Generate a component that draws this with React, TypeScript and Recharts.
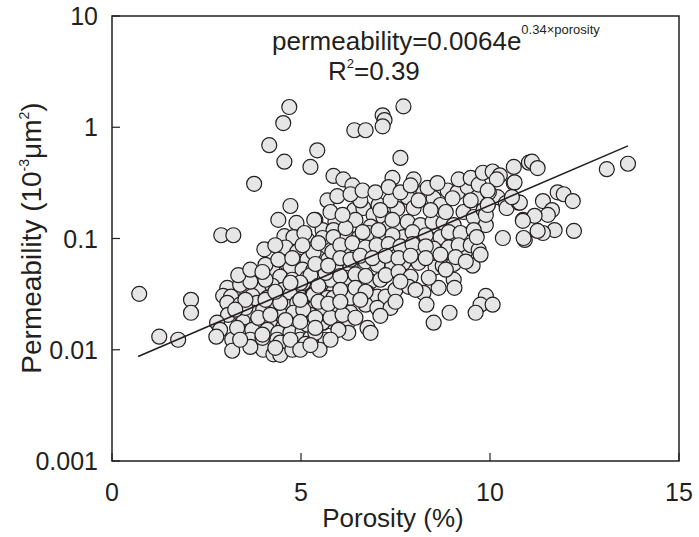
import { ScatterChart, Scatter, XAxis, YAxis, ReferenceArea } from "recharts";

const FONT = '"Liberation Sans", Arial, Helvetica, sans-serif';
const INK = "#231f20";

const porosityTicks = [0, 5, 10, 15];
const permeabilityTicks = [0.001, 0.01, 0.1, 1, 10];

// [porosity %, permeability 10^-3 μm²]
const highOutliers: [number, number][] = [
  [4.69, 1.52], [4.53, 1.09], [7.71, 1.54], [7.16, 1.28], [7.21, 1.16], [7.16, 1.02],
  [6.41, 0.94], [6.71, 0.94], [4.16, 0.69], [5.43, 0.62], [4.56, 0.49], [5.25, 0.44],
  [5.86, 0.365], [6.12, 0.34], [6.36, 0.3], [3.76, 0.31], [5.7, 0.22], [5.96, 0.24],
  [4.72, 0.196], [7.63, 0.53], [7.42, 0.35], [7.98, 0.34], [4.4, 0.147], [4.88, 0.138],
  [5.38, 0.147], [5.91, 0.141], [2.89, 0.107], [3.21, 0.107], [4.03, 0.08], [0.72, 0.0318],
  [1.25, 0.0131], [1.75, 0.0123], [2.09, 0.0281], [2.09, 0.0215],
];

const leftCluster: [number, number][] = [
  [4.56, 0.105], [4.8, 0.103], [5.17, 0.097], [5.09, 0.112], [5.57, 0.119], [5.86, 0.119],
  [4.59, 0.083], [4.9, 0.076], [5.25, 0.079], [5.59, 0.083], [5.86, 0.075],
  [4.61, 0.0605], [4.93, 0.062], [5.17, 0.0645], [5.43, 0.068], [5.72, 0.0645],
  [4.24, 0.0524], [4.72, 0.056], [5.04, 0.0524], [5.33, 0.0524], [5.59, 0.055], [5.91, 0.05],
  [3.84, 0.0444], [4.45, 0.0453], [4.77, 0.0426], [5.17, 0.0444], [5.51, 0.0453], [5.83, 0.0426],
  [3.05, 0.036], [3.58, 0.0325], [3.95, 0.0353], [4.24, 0.0376], [4.53, 0.0346], [4.9, 0.0368],
  [5.25, 0.0346], [5.59, 0.036], [5.86, 0.0332],
  [2.94, 0.0305], [3.15, 0.03], [3.71, 0.0305], [4.11, 0.0293], [4.72, 0.0312], [5.04, 0.0293],
  [5.3, 0.0312], [5.7, 0.0293], [5.88, 0.0287],
  [3.05, 0.0264], [3.84, 0.0264], [4.27, 0.0254], [4.64, 0.0243], [4.9, 0.0264], [5.38, 0.0243],
  [5.78, 0.0243],
  [3.07, 0.0206], [3.42, 0.0206], [3.74, 0.0215], [4.0, 0.0229], [4.51, 0.0202], [4.8, 0.0215],
  [5.25, 0.0206], [5.57, 0.022], [5.86, 0.0215],
  [2.78, 0.0175], [3.47, 0.0178], [3.84, 0.0178], [4.19, 0.0168], [4.53, 0.016], [4.9, 0.0168],
  [5.17, 0.016], [5.59, 0.0175], [5.83, 0.0178],
  [2.86, 0.0151], [3.58, 0.0145], [3.71, 0.0151], [4.11, 0.0151], [4.4, 0.0142], [4.72, 0.0142],
  [5.04, 0.0145], [5.3, 0.0157],
  [2.76, 0.0131], [3.18, 0.0123], [3.66, 0.0123], [4.37, 0.0123], [4.45, 0.0116], [4.98, 0.0123],
  [5.25, 0.0128], [5.65, 0.0123],
  [3.18, 0.0098], [4.0, 0.01], [4.27, 0.0091], [4.45, 0.009], [4.77, 0.01], [5.49, 0.01],
  [3.66, 0.0106],
];

const centralCluster: [number, number][] = [
  [6.41, 0.18], [6.65, 0.188], [6.92, 0.163], [7.18, 0.156], [7.55, 0.185], [7.82, 0.235],
  [7.98, 0.188], [8.24, 0.26], [8.51, 0.23], [8.88, 0.27], [9.14, 0.26], [9.41, 0.29],
  [9.67, 0.235], [9.94, 0.2], [10.2, 0.235],
  [5.35, 0.147], [6.44, 0.147], [6.84, 0.128], [7.29, 0.124], [7.55, 0.119], [7.82, 0.141],
  [8.16, 0.132], [8.48, 0.141], [8.77, 0.138], [9.04, 0.132], [9.3, 0.173], [9.57, 0.156],
  [5.57, 0.101], [5.86, 0.103], [6.23, 0.103], [6.52, 0.101], [6.79, 0.112], [7.1, 0.097],
  [7.45, 0.097], [7.71, 0.103], [8.08, 0.097], [8.43, 0.097], [8.69, 0.103], [9.01, 0.097],
  [5.33, 0.075], [5.83, 0.076], [6.18, 0.079], [6.49, 0.0715], [6.84, 0.079], [7.16, 0.076],
  [7.45, 0.076], [7.82, 0.079], [8.16, 0.083], [8.51, 0.081], [9.36, 0.078],
  [5.51, 0.0524], [5.91, 0.055], [6.31, 0.056], [6.71, 0.062], [7.02, 0.058], [7.42, 0.057],
  [7.71, 0.0605], [8.11, 0.0605], [8.56, 0.055], [8.75, 0.057], [9.04, 0.059], [9.54, 0.057],
  [5.06, 0.04], [5.43, 0.0426], [5.78, 0.0426], [6.18, 0.0444], [6.52, 0.0384], [6.84, 0.041],
  [7.1, 0.0426], [8.24, 0.0325], [8.64, 0.036], [9.04, 0.0426], [9.06, 0.036],
  [5.33, 0.0312], [5.86, 0.0293], [6.31, 0.0293], [6.76, 0.0325], [7.02, 0.03], [7.24, 0.03],
  [8.32, 0.0254], [9.89, 0.0305], [9.75, 0.0254], [10.07, 0.0254], [9.62, 0.0215],
  [8.93, 0.0215], [8.51, 0.0175],
  [5.06, 0.0229], [5.59, 0.022], [5.96, 0.0238], [6.31, 0.0215], [6.71, 0.0254], [7.02, 0.0238],
  [7.37, 0.0238],
  [5.17, 0.0168], [5.57, 0.0175], [5.96, 0.0178], [6.25, 0.0178], [6.76, 0.0157], [6.84, 0.0142],
  [6.25, 0.0142],
];

const coreFill: [number, number][] = [
  [6.57, 0.22], [7.05, 0.2], [7.37, 0.22], [8.11, 0.22], [8.69, 0.2], [9.01, 0.23], [9.49, 0.22],
  [9.83, 0.18],
  [6.18, 0.124], [6.63, 0.114], [7.05, 0.119], [7.42, 0.107], [7.95, 0.114], [8.3, 0.107],
  [8.91, 0.114], [9.22, 0.112], [9.89, 0.132],
  [6.04, 0.087], [6.36, 0.091], [6.71, 0.083], [7.0, 0.087], [7.32, 0.089], [7.63, 0.085],
  [7.95, 0.089], [8.3, 0.085], [8.91, 0.083], [9.17, 0.087],
  [6.04, 0.0665], [6.31, 0.0645], [6.57, 0.07], [6.89, 0.0665], [7.24, 0.07], [7.58, 0.0665],
  [7.9, 0.07], [8.3, 0.0665], [8.69, 0.0715], [9.09, 0.068],
  [5.25, 0.0468], [5.65, 0.049], [6.04, 0.046], [6.44, 0.0475], [6.71, 0.046], [7.24, 0.0468],
  [7.58, 0.05], [7.9, 0.0453],
  [6.04, 0.0346], [6.44, 0.036], [6.71, 0.0332], [7.5, 0.0346], [7.85, 0.0368],
  [5.38, 0.0194], [5.78, 0.0194], [6.1, 0.0206], [6.44, 0.0194], [7.1, 0.0202],
  [3.39, 0.0254], [4.06, 0.0281], [4.45, 0.0264], [4.98, 0.0281], [5.46, 0.027], [5.72, 0.0259],
  [3.39, 0.0384], [3.66, 0.041], [4.06, 0.0426], [4.98, 0.04], [5.46, 0.0376],
  [4.06, 0.058], [4.4, 0.0645], [4.77, 0.0665], [5.38, 0.059], [5.72, 0.057],
  [4.32, 0.087], [5.04, 0.087], [5.46, 0.091],
  [3.31, 0.0157], [3.98, 0.0128], [4.72, 0.0123], [5.12, 0.0113], [5.38, 0.0142],
];

const upperBand: [number, number][] = [
  [6.31, 0.25], [6.63, 0.27], [6.97, 0.26], [7.32, 0.29], [7.63, 0.26], [7.9, 0.3],
  [8.35, 0.285], [8.61, 0.315], [9.17, 0.34], [9.49, 0.35], [9.7, 0.305],
  [5.78, 0.173], [6.1, 0.163], [7.1, 0.18], [7.42, 0.147], [8.43, 0.18], [8.83, 0.173],
  [9.89, 0.163], [9.49, 0.087], [9.7, 0.079],
];

const lowerFill: [number, number][] = [
  [3.53, 0.0238], [3.87, 0.0194], [4.19, 0.0206], [4.59, 0.0185], [4.98, 0.0178], [5.38, 0.0157],
  [5.99, 0.0151], [3.98, 0.0137], [4.32, 0.0104], [4.98, 0.01], [5.25, 0.011], [5.78, 0.0123],
  [3.39, 0.0123],
  [3.34, 0.0468], [3.66, 0.0524], [3.98, 0.05], [4.32, 0.0332], [4.72, 0.04], [3.53, 0.0281],
  [3.26, 0.0229],
  [6.04, 0.027], [6.57, 0.0281], [7.63, 0.041], [8.03, 0.0346], [8.38, 0.0444], [8.83, 0.0524],
  [9.36, 0.062], [9.75, 0.0715], [7.5, 0.027],
];

const rightCluster: [number, number][] = [
  [9.81, 0.39], [10.07, 0.4], [10.26, 0.37], [10.18, 0.34], [10.63, 0.44], [10.63, 0.315],
  [11.03, 0.48], [9.97, 0.26], [10.42, 0.208], [10.44, 0.188], [10.76, 0.21], [10.87, 0.147],
  [10.92, 0.097], [10.34, 0.101], [9.57, 0.119], [9.65, 0.103],
  [13.65, 0.47], [13.09, 0.42], [11.11, 0.49], [11.26, 0.43], [10.65, 0.32],
  [11.79, 0.26], [11.95, 0.25], [12.19, 0.217], [11.4, 0.217], [11.64, 0.18], [11.53, 0.163],
  [11.18, 0.16], [10.87, 0.144], [10.79, 0.21], [10.58, 0.235], [9.94, 0.27], [9.94, 0.2],
  [11.71, 0.119], [12.22, 0.117], [11.4, 0.112], [11.26, 0.117], [10.89, 0.101],
];

// end points of the fitted line
const trendEnds: [number, number][] = [
  [0.69, 0.0087],
  [13.65, 0.68],
];

const toPoints = (rows: [number, number][]) =>
  rows.map(([porosity, permeability]) => ({ porosity, permeability }));

const samples = toPoints([
  ...highOutliers,
  ...leftCluster,
  ...centralCluster,
  ...coreFill,
  ...upperBand,
  ...lowerFill,
  ...rightCluster,
]);
const trend = toPoints(trendEnds);

const Dot = ({ cx, cy }: any) => (
  <circle cx={cx} cy={cy} r={7.5} fill="#e6e6e6" stroke={INK} strokeWidth={1.2} />
);

const NoDot = () => <g />;

const XTick = ({ x, y, payload }: any) => (
  <g>
    <line x1={x} y1={y} x2={x} y2={y - 8} stroke={INK} strokeWidth={1.2} />
    <text x={x} y={y + 40} textAnchor="middle" fontSize={25} fontFamily={FONT} fill={INK}>
      {payload.value}
    </text>
  </g>
);

const YTick = ({ x, y, payload }: any) => (
  <g>
    <line x1={x} y1={y} x2={x + 8} y2={y} stroke={INK} strokeWidth={1.2} />
    <text x={x - 14} y={y + 9} textAnchor="end" fontSize={25} fontFamily={FONT} fill={INK}>
      {payload.value}
    </text>
  </g>
);

export default function App() {
  return (
    <div style={{ position: "absolute", left: 0, top: 0, width: 699, height: 537, background: "#fff" }}>
      <ScatterChart width={699} height={537} margin={{ top: 16, right: 20, bottom: 0, left: 0 }}>
        <XAxis
          type="number"
          dataKey="porosity"
          domain={[0, 15]}
          ticks={porosityTicks}
          interval={0}
          allowDataOverflow
          axisLine={false}
          tickLine={false}
          tickSize={0}
          tickMargin={0}
          height={76}
          tick={<XTick />}
        />
        <YAxis
          type="number"
          dataKey="permeability"
          scale="log"
          domain={[0.001, 10]}
          ticks={permeabilityTicks}
          interval={0}
          allowDataOverflow
          axisLine={false}
          tickLine={false}
          tickSize={0}
          tickMargin={0}
          width={112}
          tick={<YTick />}
        />
        <Scatter data={samples} shape={<Dot />} isAnimationActive={false} />
        <Scatter
          data={trend}
          shape={<NoDot />}
          line={{ stroke: INK, strokeWidth: 1.6 }}
          isAnimationActive={false}
        />
        <ReferenceArea
          x1={0}
          x2={15}
          y1={0.001}
          y2={10}
          fill="none"
          fillOpacity={0}
          stroke={INK}
          strokeWidth={1.5}
          ifOverflow="visible"
        />
      </ScatterChart>
      <svg
        width={699}
        height={537}
        style={{ position: "absolute", left: 0, top: 0, pointerEvents: "none" }}
        fontFamily={FONT}
        fill={INK}
      >
        <text x={272} y={50} fontSize={26}>
          permeability=0.0064e
          <tspan fontSize={13} dy={-16}>0.34×porosity</tspan>
        </text>
        <text x={328} y={80} fontSize={26}>
          R<tspan fontSize={13} dy={-12}>2</tspan>
          <tspan dy={12}>=0.39</tspan>
        </text>
        <text x={393} y={527} fontSize={26} textAnchor="middle">
          Porosity (%)
        </text>
        <text transform="translate(41,238) rotate(-90)" fontSize={28} textAnchor="middle">
          Permeability (10<tspan fontSize={14} dy={-12}>-3</tspan>
          <tspan dy={12}>μm</tspan>
          <tspan fontSize={14} dy={-12}>2</tspan>
          <tspan dy={12}>)</tspan>
        </text>
      </svg>
    </div>
  );
}
